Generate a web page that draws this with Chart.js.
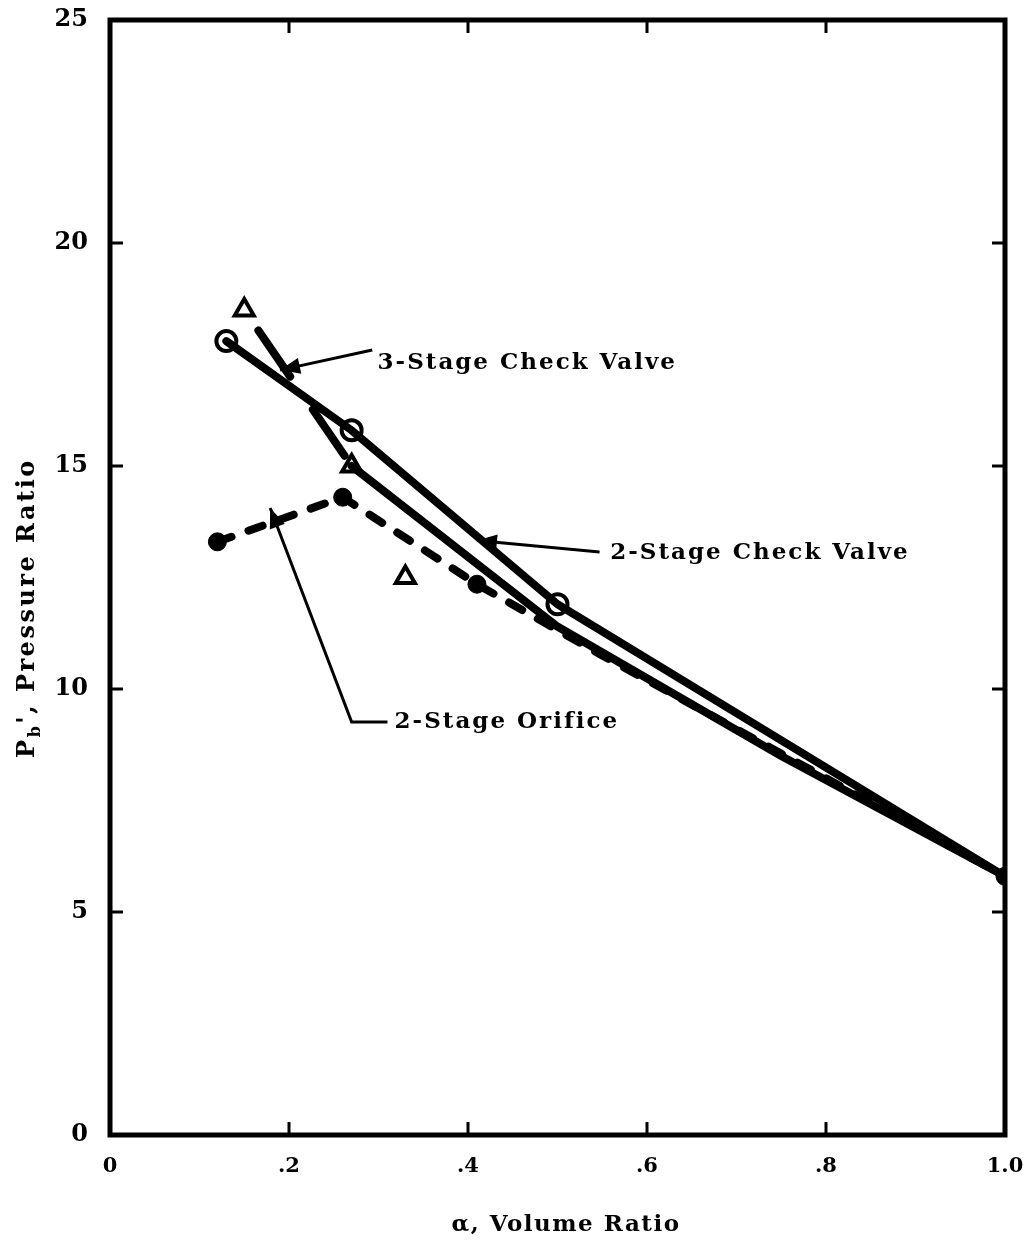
<!DOCTYPE html>
<html>
<head>
<meta charset="utf-8">
<script src="https://cdn.jsdelivr.net/npm/chart.js@4/dist/chart.umd.min.js"></script>
<style>
  body { margin: 0; background: #fff; }
  #wrap { width: 1023px; height: 1254px; }
</style>
</head>
<body>
<div id="wrap"><canvas id="chart"></canvas></div>
<script>
// x tick labels and y ticks
const xTicks = [0, 0.2, 0.4, 0.6, 0.8, 1.0];
const xTickLabels = ['0', '.2', '.4', '.6', '.8', '1.0'];
const yTicks = [0, 5, 10, 15, 20, 25];

// 2-stage check valve (open circles)
const cv2X = [0.13, 0.27, 0.5];
const cv2Y = [17.8, 15.8, 11.9];
const cv2LineX = [0.13, 0.27, 0.5, 1.0];
const cv2LineY = [17.8, 15.8, 11.9, 5.8];

// 3-stage check valve (triangles)
const cv3X = [0.15, 0.27, 0.33];
const cv3Y = [18.5, 15.0, 12.5];
const cv3LineX = [0.15, 0.27, 0.5, 0.75, 1.0];
const cv3LineY = [18.5, 15.0, 11.4, 8.5, 5.8];

// 2-stage orifice (filled circles)
const orX = [0.12, 0.26, 0.41, 1.0];
const orY = [13.3, 14.3, 12.35, 5.8];
const orLineX = [0.12, 0.26, 0.41, 0.55, 1.0];
const orLineY = [13.3, 14.3, 12.35, 10.75, 5.8];

const pts = (xs, ys) => xs.map((x, i) => ({ x: x, y: ys[i] }));

const FONT = '"DejaVu Serif", serif';

// label annotations, in data units
const notes = [
  { text: '3-Stage Check Valve', x: 0.299, y: 17.3, from: [[0.293, 17.6]], tip: [0.19, 17.15] },
  { text: '2-Stage Check Valve', x: 0.559, y: 13.05, from: [[0.547, 13.07]], tip: [0.41, 13.33] },
  { text: '2-Stage Orifice', x: 0.318, y: 9.26, from: [[0.31, 9.26], [0.27, 9.26]], tip: [0.179, 14.06] }
];

const decor = {
  id: 'decor',
  afterDraw(chart) {
    const c = chart.ctx, a = chart.chartArea;
    const sx = chart.scales.x, sy = chart.scales.y;
    c.save();
    c.strokeStyle = '#000';
    c.lineWidth = 5;
    c.strokeRect(a.left, a.top, a.right - a.left, a.bottom - a.top);
    // inward ticks
    c.lineWidth = 3;
    const tl = 13;
    c.beginPath();
    xTicks.slice(1, -1).forEach(v => {
      const px = sx.getPixelForValue(v);
      c.moveTo(px, a.bottom); c.lineTo(px, a.bottom - tl);
      c.moveTo(px, a.top); c.lineTo(px, a.top + tl);
    });
    yTicks.slice(1, -1).forEach(v => {
      const py = sy.getPixelForValue(v);
      c.moveTo(a.left, py); c.lineTo(a.left + tl, py);
      c.moveTo(a.right, py); c.lineTo(a.right - tl, py);
    });
    c.stroke();

    // annotations
    c.fillStyle = '#000';
    c.font = 'bold 23px ' + FONT;
    c.letterSpacing = '2px';
    c.textBaseline = 'middle';
    c.textAlign = 'left';
    notes.forEach(n => {
      c.fillText(n.text, sx.getPixelForValue(n.x), sy.getPixelForValue(n.y));
      const path = n.from.map(p => [sx.getPixelForValue(p[0]), sy.getPixelForValue(p[1])]);
      const tip = [sx.getPixelForValue(n.tip[0]), sy.getPixelForValue(n.tip[1])];
      const last = path[path.length - 1];
      c.lineWidth = 3;
      c.beginPath();
      c.moveTo(path[0][0], path[0][1]);
      path.slice(1).forEach(p => c.lineTo(p[0], p[1]));
      c.lineTo(tip[0], tip[1]);
      c.stroke();
      const ang = Math.atan2(tip[1] - last[1], tip[0] - last[0]);
      const L = 20, W = 8;
      c.beginPath();
      c.moveTo(tip[0], tip[1]);
      c.lineTo(tip[0] - L * Math.cos(ang) + W * Math.sin(ang), tip[1] - L * Math.sin(ang) - W * Math.cos(ang));
      c.lineTo(tip[0] - L * Math.cos(ang) - W * Math.sin(ang), tip[1] - L * Math.sin(ang) + W * Math.cos(ang));
      c.closePath();
      c.fill();
    });

    // axis titles
    c.letterSpacing = '1.5px';
    c.textAlign = 'center';
    c.font = 'bold 23px ' + FONT;
    c.fillText('\u03b1, Volume Ratio', 566, 1225);

    c.translate(28, 608);
    c.rotate(-Math.PI / 2);
    c.textAlign = 'left';
    c.letterSpacing = '2.5px';
    const t1 = 'P', t3 = '\', Pressure Ratio';
    c.font = 'bold 24px ' + FONT;
    const w1 = c.measureText(t1).width;
    c.font = 'bold 16px ' + FONT;
    const w2 = c.measureText('b').width;
    c.font = 'bold 24px ' + FONT;
    const w3 = c.measureText(t3).width;
    let x0 = -(w1 + w2 + w3) / 2;
    c.fillText(t1, x0, 0);
    c.font = 'bold 16px ' + FONT;
    c.fillText('b', x0 + w1, 8);
    c.font = 'bold 24px ' + FONT;
    c.fillText(t3, x0 + w1 + w2, 0);
    c.restore();
  }
};

const noPad = s => { s.paddingLeft = 0; s.paddingRight = 0; s.paddingTop = 0; s.paddingBottom = 0; };

new Chart(document.getElementById('chart'), {
  type: 'scatter',
  data: {
    datasets: [
      {
        label: '2-Stage Orifice line',
        data: pts(orLineX, orLineY),
        showLine: true,
        borderColor: '#000',
        borderWidth: 8,
        borderDash: [15, 18],
        borderCapStyle: 'round',
        pointRadius: 0
      },
      {
        label: '3-Stage Check Valve line',
        data: pts(cv3LineX, cv3LineY),
        showLine: true,
        borderColor: '#000',
        borderWidth: 8,
        borderCapStyle: 'round',
        segment: {
          borderDash: ctx => ctx.p0DataIndex === 0 ? [56, 40] : [],
          borderDashOffset: ctx => ctx.p0DataIndex === 0 ? 71 : 0
        },
        pointRadius: 0
      },
      {
        label: '2-Stage Check Valve line',
        data: pts(cv2LineX, cv2LineY),
        showLine: true,
        borderColor: '#000',
        borderWidth: 8,
        borderCapStyle: 'round',
        pointRadius: 0
      },
      {
        label: '2-Stage Orifice',
        data: pts(orX, orY),
        pointStyle: 'circle',
        pointRadius: 9,
        backgroundColor: '#000',
        borderColor: '#000',
        borderWidth: 1
      },
      {
        label: '3-Stage Check Valve',
        data: pts(cv3X, cv3Y),
        pointStyle: 'triangle',
        pointRadius: 11,
        backgroundColor: '#fff',
        borderColor: '#000',
        borderWidth: 4
      },
      {
        label: '2-Stage Check Valve',
        data: pts(cv2X, cv2Y),
        pointStyle: 'circle',
        pointRadius: 10,
        backgroundColor: '#fff',
        borderColor: '#000',
        borderWidth: 4
      }
    ]
  },
  options: {
    responsive: true,
    maintainAspectRatio: false,
    animation: false,
    layout: { padding: { top: 20, right: 18, left: 0, bottom: 0 } },
    plugins: { legend: { display: false }, tooltip: { enabled: false } },
    scales: {
      x: {
        type: 'linear',
        min: 0, max: 1.0,
        afterFit: s => { s.height = 119; noPad(s); },
        afterBuildTicks: s => { s.ticks = xTicks.map(v => ({ value: v })); },
        grid: { display: false, drawTicks: false },
        border: { display: false },
        ticks: {
          padding: 19,
          color: '#000',
          font: { family: FONT, size: 21, weight: 'bold' },
          callback: (v) => xTickLabels[xTicks.indexOf(v)] ?? ''
        }
      },
      y: {
        type: 'linear',
        min: 0, max: 25,
        afterFit: s => { s.width = 110; noPad(s); },
        afterBuildTicks: s => { s.ticks = yTicks.map(v => ({ value: v })); },
        grid: { display: false, drawTicks: false },
        border: { display: false },
        ticks: {
          padding: 22,
          color: '#000',
          font: { family: FONT, size: 24, weight: 'bold' }
        }
      }
    }
  },
  plugins: [decor]
});
</script>
</body>
</html>
